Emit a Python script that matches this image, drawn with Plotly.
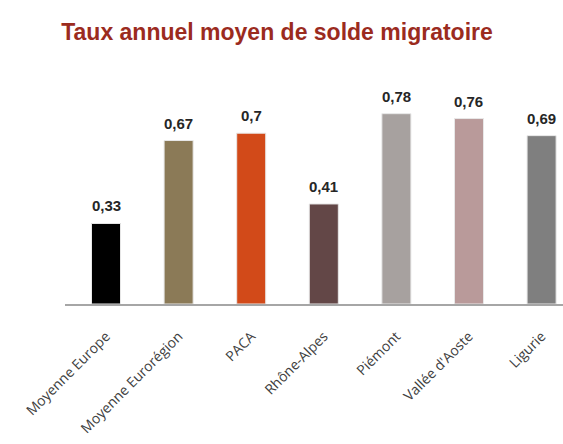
import plotly.graph_objects as go

categories = ["Moyenne Europe", "Moyenne Eurorégion", "PACA", "Rhône-Alpes",
              "Piémont", "Vallée d'Aoste", "Ligurie"]
values = [0.33, 0.67, 0.70, 0.41, 0.78, 0.76, 0.69]
colors = ["#000000", "#8B7A57", "#D24A19", "#634747", "#A7A19F", "#B99A9A", "#7F7F7F"]
labels = [f"{v:g}".replace(".", ",") for v in values]

fig = go.Figure()
fig.add_trace(go.Bar(
    x=categories, y=values, width=0.4,
    marker=dict(color=colors, line=dict(color="#E8E8E8", width=1)),
    hoverinfo="skip",
))

for c, v, t in zip(categories, values, labels):
    fig.add_annotation(x=c, y=v, text=f"<b>{t}</b>", showarrow=False,
                       yanchor="bottom", yshift=7,
                       font=dict(family="Liberation Sans, Arial", size=15, color="#262626"))

fig.update_layout(
    width=563, height=444,
    margin=dict(l=65, r=0, t=60, b=140, pad=0, autoexpand=False),
    paper_bgcolor="white", plot_bgcolor="white",
    showlegend=False,
    title=dict(text="<b>Taux annuel moyen de solde migratoire</b>",
               x=0.492, xanchor="center", y=0.928, yanchor="middle",
               font=dict(family="Liberation Sans, Arial", size=23, color="#9B2B1E")),
    xaxis=dict(range=[-0.565, 6.295], showline=True, linecolor="#A6A6A6", linewidth=1.5,
               tickangle=-45, ticks="", showgrid=False, zeroline=False, automargin=False,
               ticklabelstandoff=17,
               tickfont=dict(family="Open Sans, Arial", size=14, color="#404040")),
    yaxis=dict(range=[0, 1], visible=False, showgrid=False, zeroline=False, automargin=False),
)

fig.write_html("out.html", config={"displayModeBar": False},
               post_script="document.body.style.margin='0';")
